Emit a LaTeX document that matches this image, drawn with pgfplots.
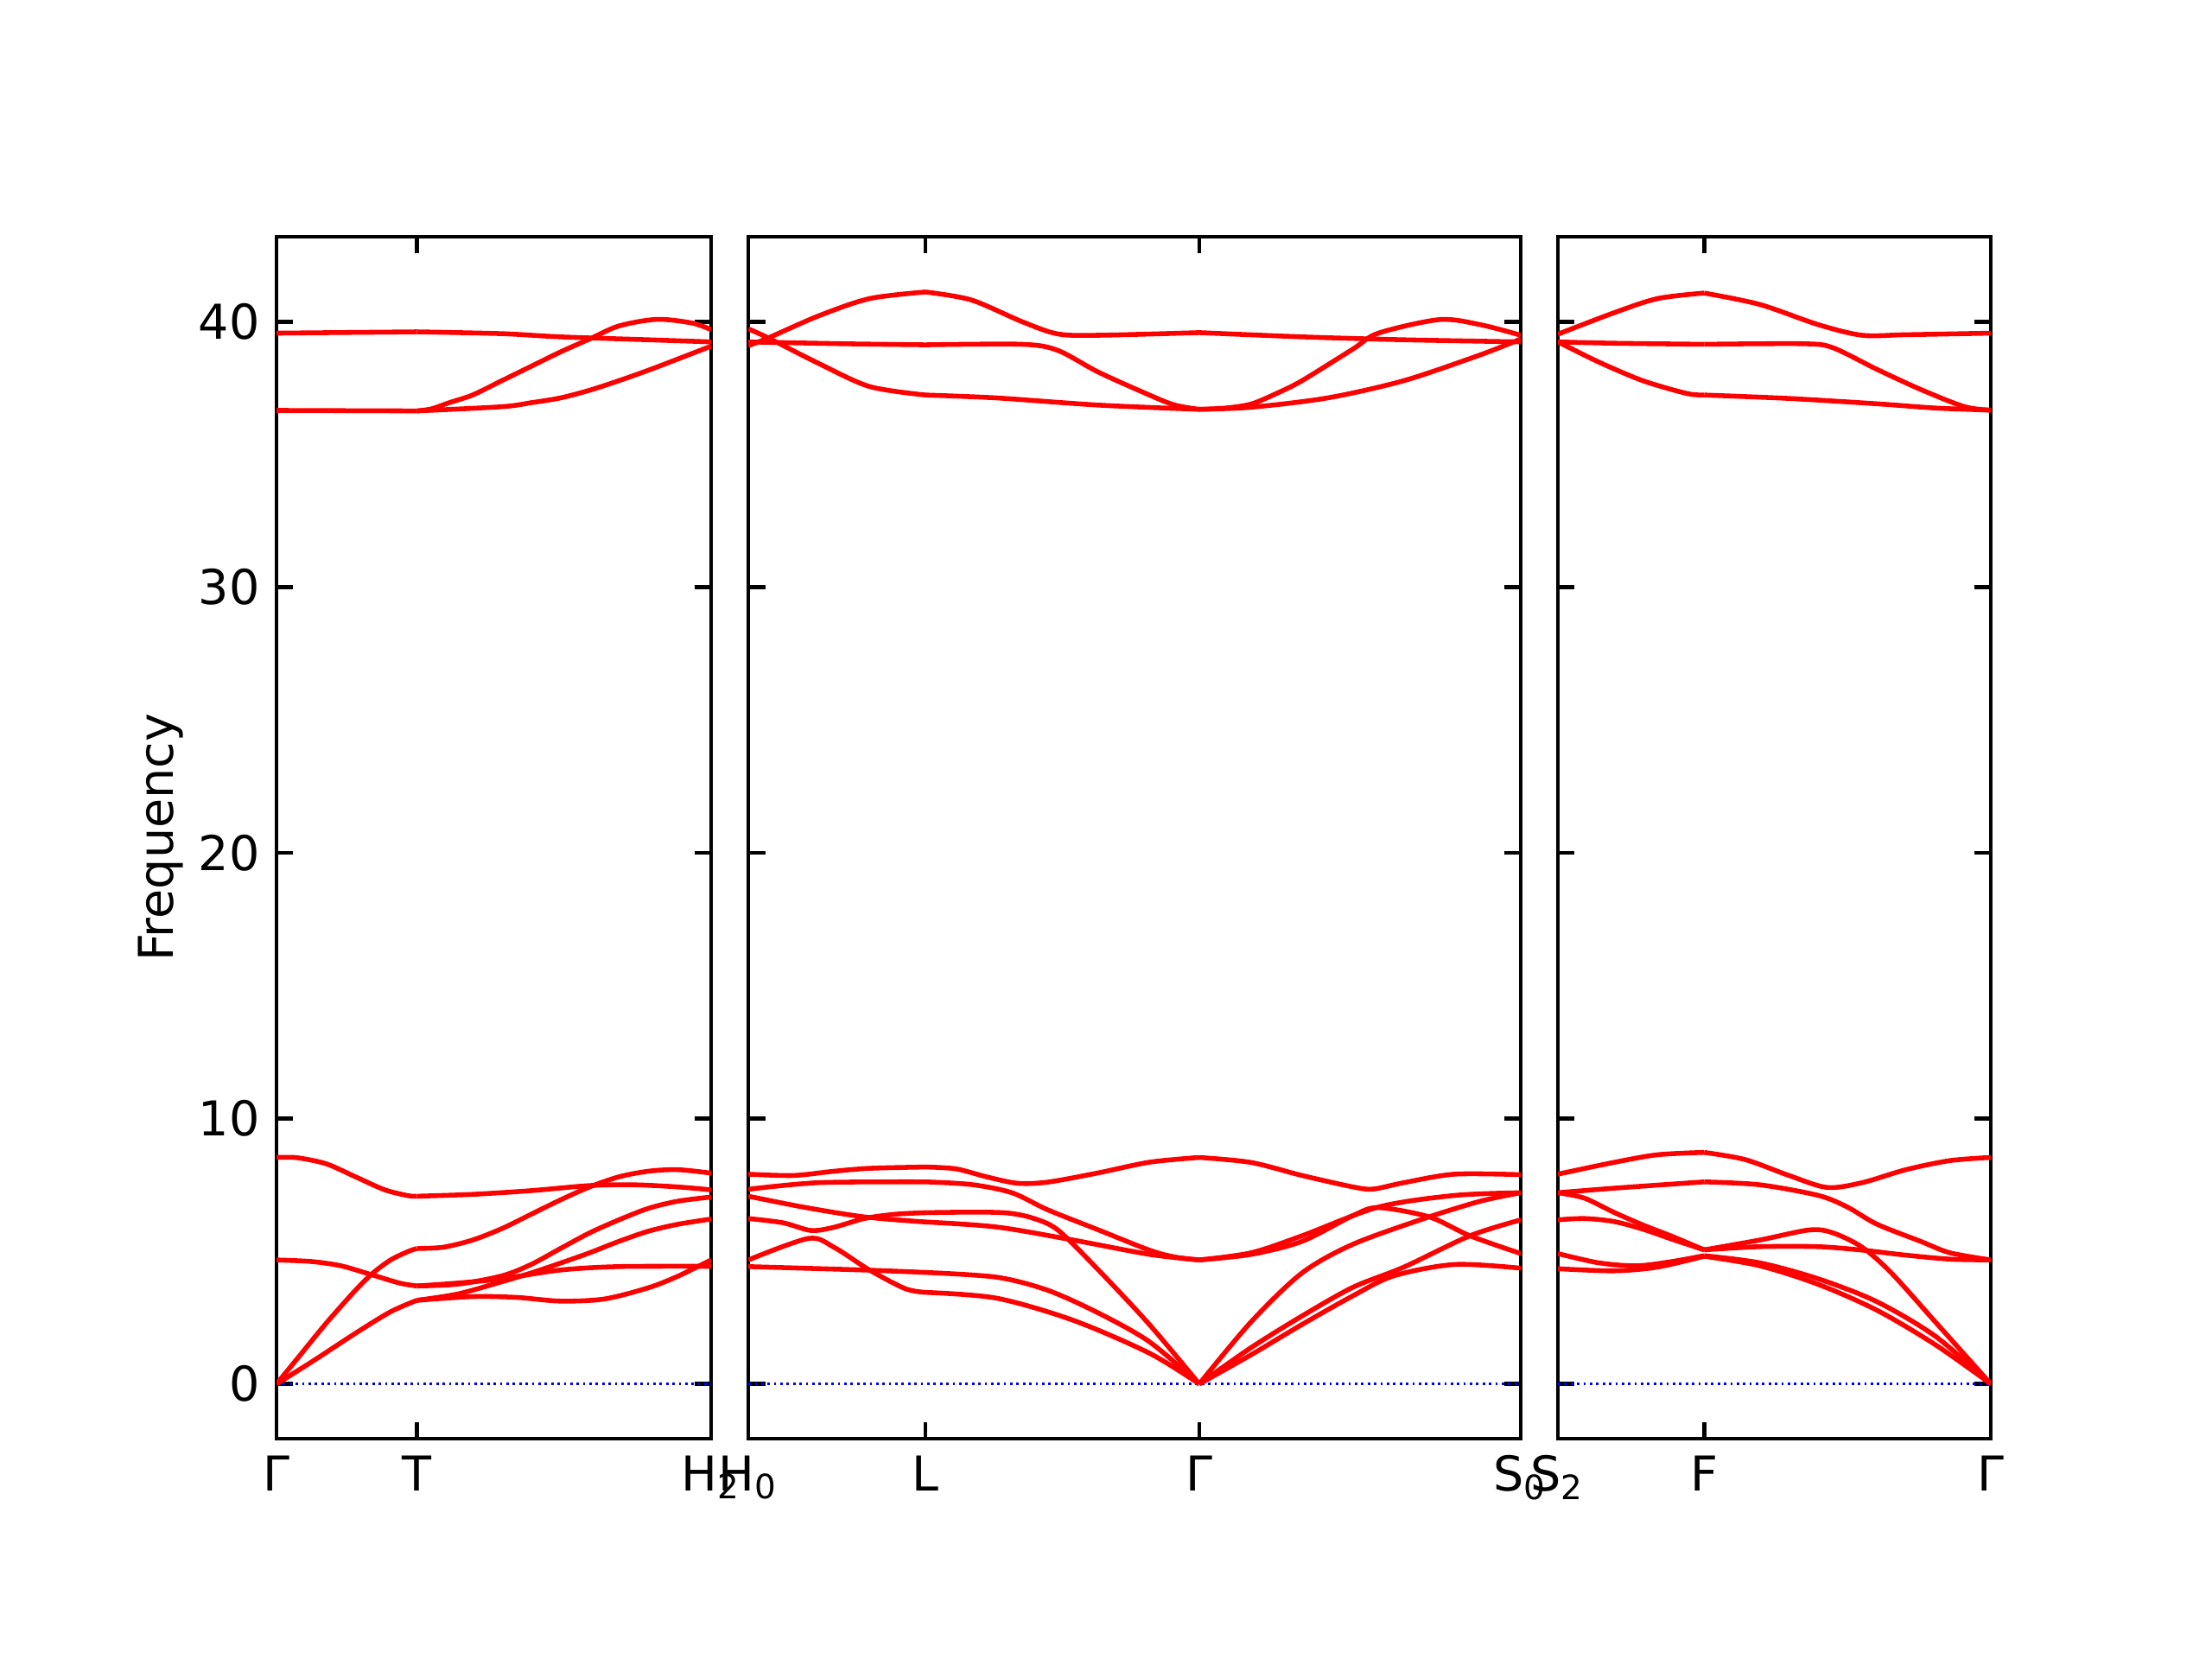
\documentclass[border=0pt]{standalone}
\usepackage{fontspec}
\setmainfont{DejaVu Sans}
\usepackage{pgfplots}
\pgfplotsset{compat=1.18}

% x values are positions, per panel; y is frequency
\pgfplotsset{
  bandax/.style={
    scale only axis, anchor=south west, height=250.38pt,
    ymin=-2.06, ymax=43.2, ytick={0,10,20,30,40},
    axis line style={line width=0.8pt},
    tick align=inside, major tick length=3.5pt,
    tick style={black, line width=0.8pt},
    xtick pos=both, ytick pos=both,
    tick label style={font=\fontsize{10}{12}\selectfont},
    /pgf/number format/assume math mode=true,
  },
  band/.style={red, line width=1pt, smooth},
  zero/.style={blue, line width=0.5pt, dash pattern=on 0.5pt off 0.83pt},
}
\newcommand{\seg}[1]{\addplot[band] coordinates {#1};}

\begin{document}
\begin{tikzpicture}

% ---- Gamma - T - H2
\begin{axis}[bandax, at={(57.6pt,45.9pt)}, width=90.54pt,
  xmin=30, xmax=1515, xtick={30,510,1515},
  xticklabels={Γ,T,H\textsubscript{2}},
  ylabel={Frequency},
  ylabel style={at={(axis description cs:-0.266,0.5)}, anchor=center, font=\fontsize{10}{12}\selectfont}]
\addplot[zero] coordinates {(30,0) (1515,0)};
\seg{(30,8.53) (100,8.52) (200,8.29) (300,7.80) (400,7.31) (480,7.09) (510,7.07)}
\seg{(30,0) (100,0.94) (200,2.29) (300,3.53) (360,4.18) (420,4.67) (480,4.99) (510,5.10)}
\seg{(30,0) (150,0.83) (300,1.91) (420,2.72) (510,3.15)}
\seg{(30,4.67) (150,4.61) (250,4.45) (350,4.13) (450,3.80) (510,3.69)}
\seg{(510,7.07) (700,7.14) (900,7.28) (1100,7.47) (1250,7.50) (1400,7.42) (1515,7.31)}
\seg{(510,5.10) (600,5.15) (700,5.42) (800,5.85) (900,6.39) (1000,6.93) (1100,7.42) (1200,7.80) (1300,8.01) (1400,8.07) (1515,7.94)}
\seg{(510,3.69) (650,3.76) (800,4.07) (900,4.50) (1000,5.10) (1100,5.69) (1200,6.18) (1300,6.61) (1400,6.88) (1515,7.04)}
\seg{(510,3.15) (650,3.39) (800,3.85) (900,4.18) (1000,4.55) (1100,4.94) (1200,5.37) (1300,5.75) (1400,6.01) (1515,6.21)}
\seg{(510,3.69) (650,3.80) (800,3.96) (1000,4.29) (1200,4.42) (1515,4.43)}
\seg{(510,3.15) (700,3.29) (850,3.26) (1000,3.12) (1150,3.20) (1300,3.62) (1400,4.05) (1515,4.67)}
\seg{(30,39.57) (510,39.62)}
\seg{(30,36.66) (510,36.64)}
\seg{(510,39.62) (800,39.55) (1000,39.43) (1300,39.32) (1515,39.24)}
\seg{(510,36.64) (560,36.72) (620,36.95) (700,37.24) (800,37.78) (900,38.32) (1000,38.86) (1100,39.35) (1200,39.84) (1330,40.09) (1450,39.95) (1515,39.70)}
\seg{(510,36.64) (800,36.80) (900,36.95) (1000,37.13) (1100,37.42) (1200,37.78) (1300,38.17) (1400,38.59) (1515,39.08)}
\end{axis}

% ---- H0 - L - Gamma - S0
\begin{axis}[bandax, at={(155.9pt,45.9pt)}, width=160.92pt,
  xmin=12, xmax=1530, xtick={12,360,898,1530},
  xticklabels={H\textsubscript{0},L,Γ,S\textsubscript{0}},
  yticklabels={}]
\addplot[zero] coordinates {(12,0) (1530,0)};
\seg{(12,7.90) (100,7.85) (180,8.01) (250,8.12) (360,8.17)}
\seg{(360,8.17) (420,8.10) (480,7.80) (540,7.56) (600,7.60) (700,7.95) (800,8.35) (898,8.53)}
\seg{(898,8.53) (1000,8.34) (1100,7.85) (1200,7.42) (1240,7.34) (1300,7.58) (1400,7.90) (1530,7.88)}
\seg{(12,7.33) (150,7.58) (360,7.61)}
\seg{(360,7.61) (450,7.51) (530,7.20) (600,6.56) (700,5.80) (800,5.04) (850,4.78) (898,4.67)}
\seg{(12,7.07) (120,6.66) (240,6.29) (360,6.10)}
\seg{(360,6.10) (500,5.91) (650,5.42) (800,4.88) (898,4.67)}
\seg{(12,6.23) (80,6.07) (135,5.78) (180,5.90) (240,6.23) (300,6.39) (360,6.45)}
\seg{(360,6.45) (450,6.47) (520,6.44) (570,6.25) (620,5.80) (700,4.29) (800,2.24) (898,0)}
\seg{(12,4.42) (240,4.29) (360,4.20)}
\seg{(360,4.20) (500,4.02) (600,3.53) (700,2.67) (800,1.59) (898,0)}
\seg{(12,4.67) (130,5.48) (180,5.15) (250,4.29) (320,3.59) (360,3.45)}
\seg{(360,3.45) (500,3.23) (650,2.40) (800,1.16) (898,0)}
\seg{(898,4.67) (1000,4.94) (1100,5.58) (1250,6.66) (1400,7.10) (1530,7.20)}
\seg{(898,4.67) (1000,4.88) (1100,5.37) (1200,6.34) (1250,6.64) (1350,6.29) (1430,5.58) (1530,4.91)}
\seg{(898,0) (1000,2.34) (1100,4.18) (1200,5.26) (1340,6.23) (1450,6.88) (1530,7.20)}
\seg{(898,0) (1000,1.37) (1100,2.56) (1200,3.64) (1300,4.40) (1430,5.58) (1530,6.18)}
\seg{(898,0) (1000,1.10) (1100,2.24) (1200,3.32) (1280,4.07) (1400,4.50) (1530,4.36)}
\seg{(12,39.10) (50,39.38) (150,40.22) (250,40.87) (360,41.12)}
\seg{(360,41.12) (450,40.82) (550,40.00) (620,39.54) (700,39.49) (898,39.59)}
\seg{(898,39.59) (1100,39.43) (1300,39.32) (1530,39.24)}
\seg{(12,39.24) (200,39.17) (360,39.13)}
\seg{(360,39.13) (550,39.15) (620,38.92) (700,38.10) (800,37.24) (850,36.86) (898,36.70)}
\seg{(898,36.70) (950,36.75) (1000,36.90) (1050,37.30) (1100,37.78) (1200,38.97) (1250,39.57) (1370,40.08) (1450,39.89) (1530,39.49)}
\seg{(12,39.73) (50,39.40) (150,38.43) (250,37.56) (360,37.24)}
\seg{(360,37.24) (500,37.13) (700,36.86) (898,36.70)}
\seg{(898,36.70) (1000,36.78) (1150,37.13) (1300,37.78) (1450,38.75) (1530,39.35)}
\end{axis}

% ---- S2 - F - Gamma
\begin{axis}[bandax, at={(324.54pt,45.9pt)}, width=90.18pt,
  xmin=10, xmax=1490, xtick={10,510,1490},
  xticklabels={S\textsubscript{2},F,Γ},
  yticklabels={}]
\addplot[zero] coordinates {(10,0) (1490,0)};
\seg{(10,7.90) (200,8.34) (350,8.63) (510,8.72)}
\seg{(510,8.72) (650,8.45) (800,7.85) (930,7.40) (1050,7.58) (1200,8.07) (1350,8.41) (1490,8.53)}
\seg{(10,7.20) (200,7.37) (510,7.61)}
\seg{(510,7.61) (700,7.50) (900,7.10) (1000,6.66) (1100,6.02) (1250,5.37) (1350,4.94) (1490,4.67)}
\seg{(10,7.20) (100,7.00) (200,6.47) (300,5.99) (400,5.56) (510,5.05)}
\seg{(510,5.05) (700,5.42) (870,5.80) (950,5.69) (1050,5.15) (1150,4.18) (1300,2.34) (1490,0)}
\seg{(10,6.18) (100,6.23) (200,6.12) (300,5.83) (400,5.45) (510,5.05)}
\seg{(510,5.05) (700,5.17) (900,5.17) (1050,5.04) (1200,4.85) (1350,4.70) (1490,4.67)}
\seg{(10,4.91) (150,4.56) (280,4.45) (400,4.61) (510,4.83)}
\seg{(510,4.83) (700,4.56) (900,3.96) (1100,3.10) (1300,1.80) (1490,0)}
\seg{(10,4.34) (200,4.26) (350,4.40) (510,4.81)}
\seg{(510,4.81) (700,4.45) (900,3.75) (1100,2.78) (1300,1.48) (1490,0)}
\seg{(10,39.53) (200,40.33) (350,40.87) (510,41.08)}
\seg{(510,41.08) (700,40.65) (900,39.89) (1050,39.49) (1200,39.51) (1490,39.57)}
\seg{(10,39.24) (200,39.19) (510,39.15)}
\seg{(510,39.15) (850,39.17) (950,39.02) (1100,38.21) (1250,37.45) (1400,36.80) (1490,36.67)}
\seg{(10,39.24) (150,38.48) (300,37.78) (450,37.30) (510,37.24)}
\seg{(510,37.24) (800,37.11) (1100,36.91) (1300,36.75) (1490,36.67)}
\end{axis}

\pgfresetboundingbox
\path[use as bounding box] (0,0) rectangle (460.8pt,345.6pt);
\end{tikzpicture}
\end{document}
